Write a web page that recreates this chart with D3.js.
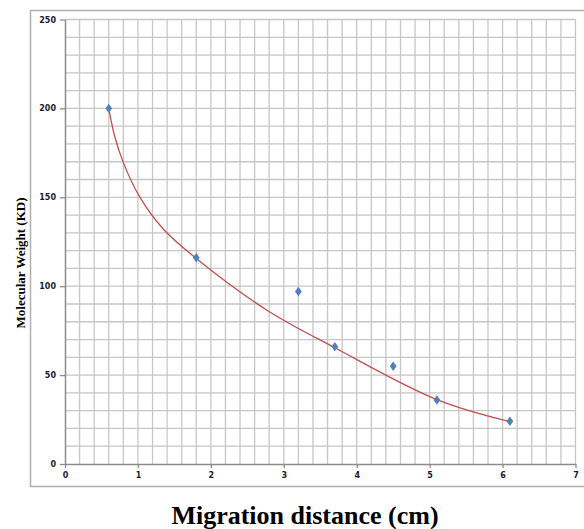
<!DOCTYPE html>
<html>
<head>
<meta charset="utf-8">
<script src="https://cdn.jsdelivr.net/npm/d3@7"></script>
<style>
  body { margin: 0; background: #fff; }
  svg { display: block; }
</style>
</head>
<body>
<svg width="584" height="529"></svg>
<script>
// Measured points (migration distance in cm, molecular weight in KD)
const distance = [0.6, 1.8, 3.2, 3.7, 4.5, 5.1, 6.1];
const weight = [200, 116, 97, 66, 55, 36, 24];

// Trendline
const trendX = [0.6, 0.68, 0.8, 1.02, 1.35, 1.8, 2.77, 3.7, 5.1, 6.1];
const trendY = [200, 184.5, 169.5, 150.5, 132, 115.6, 86.5, 65.4, 36.2, 23.8];

const xTicks = [0, 1, 2, 3, 4, 5, 6, 7];
const yTicks = [0, 50, 100, 150, 200, 250];

const svg = d3.select("svg");

const x = d3.scaleLinear().domain([0, 7]).range([65, 575.5]);
const y = d3.scaleLinear().domain([0, 250]).range([464, 19.5]);

// Outer chart border (runs off the right edge)
svg.append("rect")
    .attr("x", 30.5).attr("y", 10.5)
    .attr("width", 600).attr("height", 476)
    .attr("fill", "none")
    .attr("stroke", "#b0b0b0")
    .attr("stroke-width", 1.5);

// Minor grid
const grid = svg.append("g").attr("stroke", "#c6c6c6").attr("stroke-width", 1.3);
grid.selectAll(".gx")
    .data(d3.ticks(0, 7, 35).filter(d => d > 0))
    .join("line")
    .attr("x1", d => x(d)).attr("x2", d => x(d))
    .attr("y1", y(250)).attr("y2", y(0));
grid.selectAll(".gy")
    .data(d3.ticks(0, 250, 25).filter(d => d > 0))
    .join("line")
    .attr("x1", x(0)).attr("x2", x(7))
    .attr("y1", d => y(d)).attr("y2", d => y(d));

// Axes
const xAxis = svg.append("g")
    .attr("transform", `translate(0,${y(0)})`)
    .call(d3.axisBottom(x).tickValues(xTicks).tickFormat(d3.format("d"))
        .tickSize(4).tickPadding(4).tickSizeOuter(0));
const yAxis = svg.append("g")
    .attr("transform", `translate(${x(0)},0)`)
    .call(d3.axisLeft(y).tickValues(yTicks).tickFormat(d3.format("d"))
        .tickSize(5).tickPadding(4).tickSizeOuter(0));

[xAxis, yAxis].forEach(a => {
    a.select(".domain").attr("stroke", "#8c8c8c").attr("stroke-width", 1.5);
    a.selectAll(".tick line").attr("stroke", "#8c8c8c").attr("stroke-width", 1.3);
    a.selectAll(".tick text")
        .attr("fill", "#1a1a2e")
        .attr("font-family", "DejaVu Sans")
        .attr("font-weight", "bold")
        .attr("font-size", 8);
});

// Trendline
svg.append("path")
    .datum(trendX.map((d, i) => [d, trendY[i]]))
    .attr("fill", "none")
    .attr("stroke", "#c0504d")
    .attr("stroke-width", 1.3)
    .attr("d", d3.line().x(d => x(d[0])).y(d => y(d[1])).curve(d3.curveCatmullRom.alpha(0.5)));

// Markers
svg.append("g")
    .selectAll("path")
    .data(distance.map((d, i) => [d, weight[i]]))
    .join("path")
    .attr("transform", d => `translate(${x(d[0])},${y(d[1])}) scale(1,0.8)`)
    .attr("d", d3.symbol(d3.symbolDiamond, 40))
    .attr("fill", "#4f81bd");

// Axis titles
const yTitleBox = svg.append("rect")
    .attr("transform", "translate(20,263) rotate(-90)")
    .attr("fill", "#fff");
const yTitle = svg.append("text")
    .attr("transform", "translate(20,263) rotate(-90)")
    .attr("text-anchor", "middle")
    .attr("dominant-baseline", "central")
    .attr("font-family", "Liberation Serif")
    .attr("font-weight", "bold")
    .attr("font-size", 13)
    .text("Molecular Weight (KD)");
const bb = yTitle.node().getBBox();
yTitleBox
    .attr("x", bb.x - 4).attr("y", bb.y)
    .attr("width", bb.width + 8).attr("height", bb.height);

svg.append("text")
    .attr("x", 305).attr("y", 524)
    .attr("text-anchor", "middle")
    .attr("font-family", "Liberation Serif")
    .attr("font-weight", "bold")
    .attr("font-size", 26)
    .text("Migration distance (cm)");
</script>
</body>
</html>
